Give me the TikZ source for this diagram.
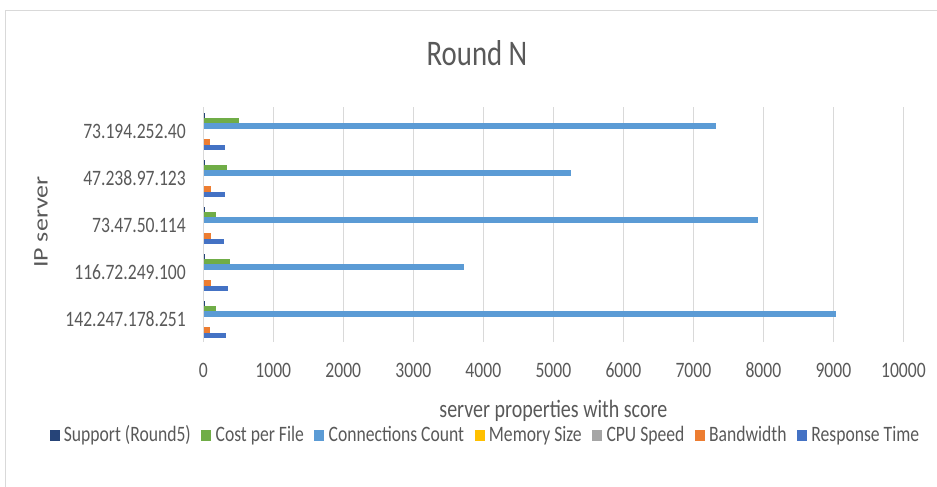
\documentclass[tikz,border=0pt]{standalone}
\usepackage{fontspec}
\setmainfont[FakeStretch=0.8]{Carlito}
\newfontfamily\plainfont{Carlito}
\usepackage{graphicx}
\usetikzlibrary{positioning}
\definecolor{txtgray}{HTML}{595959}
\definecolor{gridgray}{HTML}{D9D9D9}
\definecolor{cSup}{HTML}{264478}
\definecolor{cCost}{HTML}{70AD47}
\definecolor{cConn}{HTML}{5B9BD5}
\definecolor{cMem}{HTML}{FFC000}
\definecolor{cCpu}{HTML}{A5A5A5}
\definecolor{cBand}{HTML}{ED7D31}
\definecolor{cResp}{HTML}{4472C4}

\begin{document}
\begin{tikzpicture}
      [x=1pt, y=-1pt,
       lbl/.style={text=txtgray, inner sep=0pt, font=\fontsize{22}{22}\selectfont},
       legbox/.style={inner sep=0pt, minimum width=10pt, minimum height=11pt},
       grid/.style={draw=gridgray, line width=1.5pt}]
      \useasboundingbox (0,0) rectangle (937,487);
      % frame %
      \draw[gridgray, line width=1.5pt] (937,10.5) -- (5.5,10.5) -- (5.5,487);

      % title %
      \node[lbl, anchor=base, font=\fontsize{36}{36}\selectfont] (title) at (477,66) {Round N};

      % grid and ticks %
      \foreach \v in {0,1000,...,10000} {
        \draw[grid] ({203.3+0.07*\v},107.3) -- ({203.3+0.07*\v},342);
        \node[lbl, anchor=base] (tick\v) at ({203.3+0.07*\v},377) {\v};
      }

      % bars %
      \foreach \ip/\vs/\vc/\vn/\vm/\vu/\vb/\vr [count=\i] in
        {73.194.252.40/25/510/7320/0/0/95/315,
         47.238.97.123/30/345/5250/0/0/110/315,
         73.47.50.114/30/180/7930/0/0/105/300,
         116.72.249.100/30/385/3720/0/0/110/355,
         142.247.178.251/30/180/9040/0/0/95/330} {
        \pgfmathsetmacro{\gy}{112.7+(\i-1)*47}
        \node[lbl, anchor=base east] (ip\i) at (186,{\gy+26}) {\ip};
        \foreach \val/\col [count=\k from 0] in
          {\vs/cSup, \vc/cCost, \vn/cConn, \vm/cMem, \vu/cCpu, \vb/cBand, \vr/cResp} {
          \ifdim\val pt>0pt
            \fill[\col] (204,{\gy+\k*5.33}) rectangle ({203.3+0.07*\val},{\gy+(\k+1)*5.33});
          \fi
        }
      }

      % axis titles %
      \node[lbl, anchor=base, font=\fontsize{25}{25}\selectfont] (xtitle) at (553.3,417) {server properties with score};
      \node[lbl, rotate=90, font=\plainfont\fontsize{26}{26}\selectfont] (ytitle) at (41,222) {\scalebox{1}[0.8]{IP server}};

      % legend %
      \node[legbox, fill=cSup] (m1) at (54.5,435.5) {};
      \node[lbl, right=4pt of m1.south east, anchor=base west] (t1) {Support (Round5)};
      \foreach \col/\name [count=\i from 2] in
        {cCost/Cost per File, cConn/Connections Count, cMem/Memory Size,
         cCpu/CPU Speed, cBand/Bandwidth, cResp/Response Time} {
        \pgfmathtruncatemacro{\j}{\i-1}
        \node[legbox, fill=\col, right=10pt of t\j.base east, anchor=south west] (m\i) {};
        \node[lbl, right=4pt of m\i.south east, anchor=base west] (t\i) {\name};
      }

    \end{tikzpicture}
\end{document}
